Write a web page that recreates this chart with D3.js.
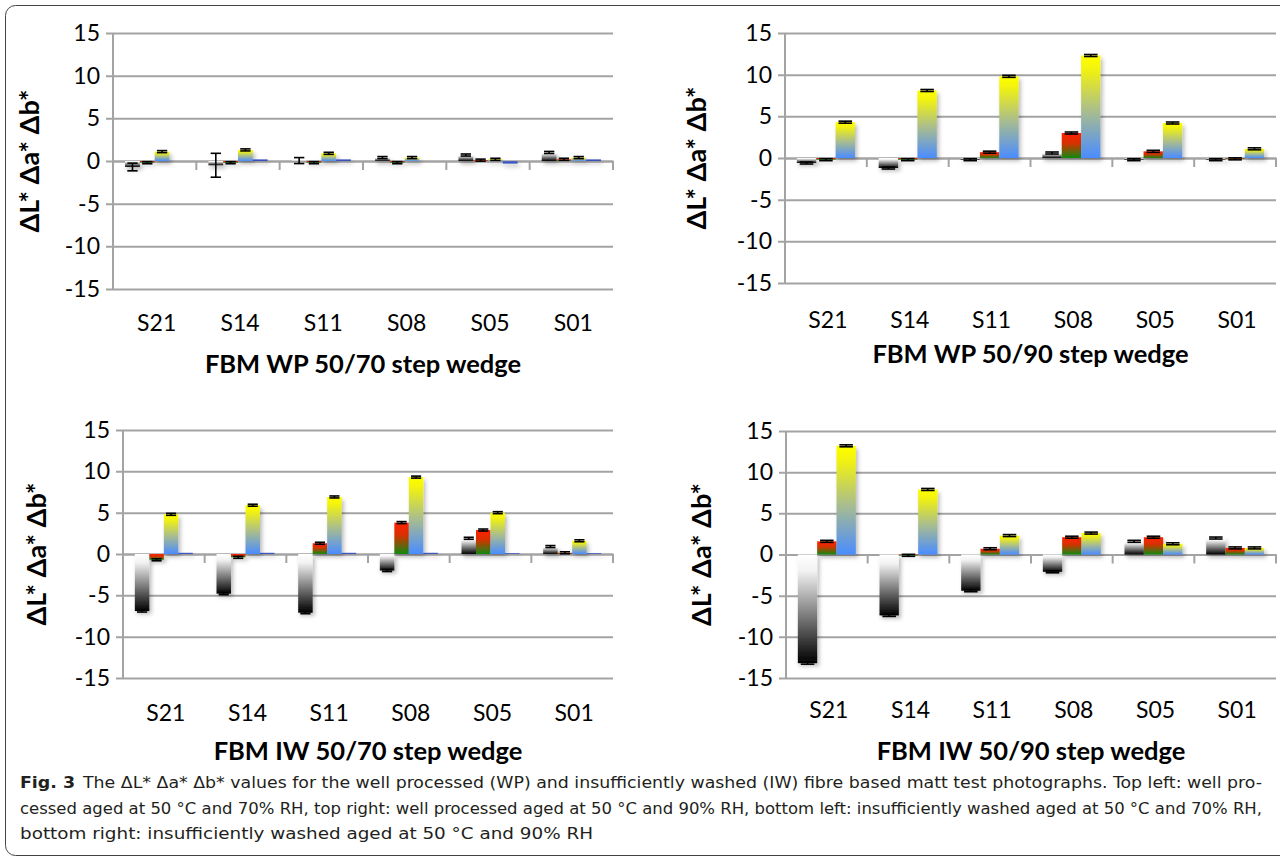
<!DOCTYPE html>
<html>
<head>
<meta charset="utf-8">
<script src="https://cdn.jsdelivr.net/npm/d3@7"></script>
<style>
  html, body { margin: 0; padding: 0; background: #fff; }
  svg { display: block; }
</style>
</head>
<body>
<svg id="chart" width="1280" height="862"></svg>
<script>
// ---------------- DATA ----------------
const categories = ["S21", "S14", "S11", "S08", "S05", "S01"];
const yTicks = [-15, -10, -5, 0, 5, 10, 15];
const yDomain = [-15, 15];

// FBM WP 50/70
const wp5070L = [-0.7, -0.5, 0.05, 0.4, 0.7, 1.0];
const wp5070a = [-0.2, -0.2, -0.2, -0.2, 0.1, 0.2];
const wp5070b = [1.1, 1.3, 0.9, 0.4, 0.2, 0.4];
const wp5070d = [0.0, 0.2, 0.2, 0.0, -0.3, 0.2];
const wp5070LErr = [0.45, 1.4, 0.35, 0.12, 0.12, 0.12];

// FBM WP 50/90
const wp5090L = [-0.6, -1.2, -0.2, 0.6, -0.2, -0.2];
const wp5090a = [-0.2, -0.2, 0.7, 3.0, 0.8, -0.1];
const wp5090b = [4.3, 8.1, 9.8, 12.3, 4.2, 1.1];

// FBM IW 50/70
const iw5070L = [-6.9, -4.8, -7.1, -2.0, 1.9, 0.9];
const iw5070a = [-0.7, -0.4, 1.3, 3.8, 2.9, 0.15];
const iw5070b = [4.8, 5.9, 6.9, 9.3, 5.0, 1.6];
const iw5070d = [0.15, 0.15, 0.15, 0.15, 0.1, 0.1];

// FBM IW 50/90
const iw5090L = [-13.2, -7.4, -4.4, -2.1, 1.6, 2.0];
const iw5090a = [1.6, -0.1, 0.7, 2.1, 2.1, 0.8];
const iw5090b = [13.2, 7.9, 2.3, 2.6, 1.3, 0.8];

const errDefault = 0.12;

const panelTitles = ["FBM WP 50/70 step wedge", "FBM WP 50/90 step wedge",
                     "FBM IW 50/70 step wedge", "FBM IW 50/90 step wedge"];
const yAxisTitle = "ΔL* Δa* Δb*";

const captionBold = "Fig. 3";
const captionLines = [
  "The ΔL* Δa* Δb* values for the well processed (WP) and insufficiently washed (IW) fibre based matt test photographs. Top left: well pro-",
  "cessed aged at 50 °C and 70% RH, top right: well processed aged at 50 °C and 90% RH, bottom left: insufficiently washed aged at 50 °C and 70% RH,",
  "bottom right: insufficiently washed aged at 50 °C and 90% RH"
];

// ---------------- LAYOUT ----------------
const panels = [
  { series: [wp5070L, wp5070a, wp5070b, wp5070d], kinds: ["L","a","b","d"], errs: [wp5070LErr],
    x0: 113, x1: 613, yTop: 33, yBot: 289, xlabY: 331, titleY: 373, ytX: 39 },
  { series: [wp5090L, wp5090a, wp5090b], kinds: ["L","a","b"], errs: [],
    x0: 785, x1: 1276, yTop: 33, yBot: 283, xlabY: 328, titleY: 363, ytX: 706 },
  { series: [iw5070L, iw5070a, iw5070b, iw5070d], kinds: ["L","a","b","d"], errs: [],
    x0: 123, x1: 613, yTop: 430, yBot: 678, xlabY: 721, titleY: 760, ytX: 46 },
  { series: [iw5090L, iw5090a, iw5090b], kinds: ["L","a","b"], errs: [],
    x0: 786, x1: 1276, yTop: 431, yBot: 678, xlabY: 718, titleY: 760, ytX: 711 }
];

const svg = d3.select("#chart");
const defs = svg.append("defs");

// gradients
function grad(id, stops) {
  const g = defs.append("linearGradient").attr("id", id)
    .attr("x1", 0).attr("y1", 0).attr("x2", 0).attr("y2", 1);
  stops.forEach(s => g.append("stop").attr("offset", s[0]).attr("stop-color", s[1]));
}
grad("gL", [[0, "#ffffff"], [0.15, "#f2f2f2"], [1, "#000000"]]);
grad("ga", [[0, "#ff2200"], [0.4, "#d93000"], [1, "#108a10"]]);
grad("gb", [[0, "#ffff00"], [0.12, "#f4f40a"], [0.55, "#a8bc90"], [1, "#4a8cff"]]);
grad("gd", [[0, "#5a6ec8"], [1, "#2a44b8"]]);
const fills = { L: "url(#gL)", a: "url(#ga)", b: "url(#gb)", d: "url(#gd)" };

const shadow = defs.append("filter").attr("id", "shadow")
  .attr("filterUnits", "userSpaceOnUse")
  .attr("x", 0).attr("y", 0).attr("width", 1280).attr("height", 862);
shadow.append("feDropShadow").attr("dx", 2).attr("dy", 3).attr("stdDeviation", 2)
  .attr("flood-color", "#000").attr("flood-opacity", 0.28);

// border
svg.append("rect").attr("x", 5.5).attr("y", 5.5).attr("width", 1320).attr("height", 850)
  .attr("rx", 10).attr("fill", "none").attr("stroke", "#444").attr("stroke-width", 1);

const gridColor = "#a3a3a3";
const tickFont = "Lato, 'Open Sans', sans-serif";

panels.forEach((p, pi) => {
  const g = svg.append("g");
  const x = d3.scaleBand().domain(categories).range([p.x0, p.x1]).padding(0);
  const y = d3.scaleLinear().domain(yDomain).range([p.yBot, p.yTop]);
  const n = p.series.length;
  const groupW = x.bandwidth() * 0.71;
  const sub = d3.scaleBand().domain(d3.range(n))
    .range([(x.bandwidth() - groupW) / 2, (x.bandwidth() + groupW) / 2]).padding(0);

  // y axis with gridlines
  const yAxis = d3.axisLeft(y).tickValues(yTicks).tickFormat(d => String(d))
    .tickSizeInner(-(p.x1 - p.x0)).tickSizeOuter(0).tickPadding(14);
  const ya = g.append("g").attr("transform", `translate(${p.x0},0)`).call(yAxis);
  ya.select(".domain").attr("stroke", gridColor).attr("stroke-width", 2)
    .attr("d", `M0,${p.yTop}V${p.yBot}`);
  ya.selectAll(".tick line").attr("stroke", gridColor).attr("stroke-width", 2).attr("x1", -7);
  ya.selectAll(".tick text").attr("font-family", tickFont).attr("font-size", 23)
    .attr("fill", "#000").attr("x", -13);

  // x axis at zero: tick marks at band boundaries
  const xa = d3.axisBottom(x).tickSize(0).tickFormat("");
  const xg = g.append("g").attr("transform", `translate(0,${y(0)})`).call(xa);
  xg.select(".domain").attr("stroke", gridColor).attr("stroke-width", 2);
  xg.selectAll(".tick line").remove();
  const bounds = categories.map(c => x(c) + x.bandwidth());
  xg.selectAll("line.bt").data(bounds).join("line").attr("class", "bt")
    .attr("x1", d => d).attr("x2", d => d).attr("y1", 0).attr("y2", 9)
    .attr("stroke", gridColor).attr("stroke-width", 2);

  // bars
  p.series.forEach((vals, si) => {
    const kind = p.kinds[si];
    const bars = g.append("g").attr("filter", "url(#shadow)");
    bars.selectAll("rect").data(vals.map((v, i) => ({ v, c: categories[i] })))
      .join("rect")
      .attr("x", d => x(d.c) + sub(si))
      .attr("width", sub.bandwidth())
      .attr("y", d => y(Math.max(0, d.v)))
      .attr("height", d => Math.abs(y(d.v) - y(0)))
      .attr("fill", fills[kind]);
  });

  // error bars (not for the 4th series)
  p.series.forEach((vals, si) => {
    if (p.kinds[si] === "d") return;
    const errs = p.errs[si] || vals.map(() => errDefault);
    const capW = sub.bandwidth() * 0.7;
    const eg = g.append("g").attr("stroke", "#000").attr("stroke-width", 1.6);
    vals.forEach((v, i) => {
      const cx = x(categories[i]) + sub(si) + sub.bandwidth() / 2;
      const e = errs[i];
      const yHi = y(v + e), yLo = y(v - e);
      eg.append("line").attr("x1", cx).attr("x2", cx).attr("y1", yHi).attr("y2", yLo);
      eg.append("line").attr("x1", cx - capW / 2).attr("x2", cx + capW / 2).attr("y1", yHi).attr("y2", yHi);
      eg.append("line").attr("x1", cx - capW / 2).attr("x2", cx + capW / 2).attr("y1", yLo).attr("y2", yLo);
    });
  });

  // category labels
  g.selectAll("text.cat").data(categories).join("text").attr("class", "cat")
    .attr("x", d => x(d) + x.bandwidth() / 2 + 2)
    .attr("y", p.xlabY)
    .attr("text-anchor", "middle")
    .attr("font-family", tickFont).attr("font-size", 23).attr("fill", "#000")
    .text(d => d);

  // x title
  g.append("text").attr("x", (p.x0 + p.x1) / 2).attr("y", p.titleY)
    .attr("text-anchor", "middle").attr("font-family", tickFont).attr("font-weight", "bold")
    .attr("font-size", 25.5).attr("fill", "#000").text(panelTitles[pi]);

  // y title
  const yc = y(0);
  g.append("text").attr("transform", `translate(${p.ytX},${yc}) rotate(-90)`)
    .attr("text-anchor", "middle").attr("font-family", tickFont).attr("font-weight", "bold")
    .attr("font-size", 27).attr("fill", "#000").text(yAxisTitle);
});

// caption
const capFont = "'Liberation Sans Narrow', 'DejaVu Sans Condensed', 'Noto Sans', sans-serif";
svg.append("text").attr("x", 20).attr("y", 788).attr("font-family", capFont)
  .attr("font-weight", "bold").attr("font-size", 16).attr("fill", "#231f20")
  .attr("textLength", 55).attr("lengthAdjust", "spacingAndGlyphs").text(captionBold);
const capPos = [
  { x: 83, y: 788, len: 1179 },
  { x: 20, y: 814, len: 1242 },
  { x: 20, y: 839, len: 573 }
];
captionLines.forEach((t, i) => {
  svg.append("text").attr("x", capPos[i].x).attr("y", capPos[i].y)
    .attr("font-family", capFont).attr("font-size", 15.5).attr("fill", "#231f20")
    .attr("textLength", capPos[i].len).attr("lengthAdjust", "spacingAndGlyphs").text(t);
});
</script>
</body>
</html>
